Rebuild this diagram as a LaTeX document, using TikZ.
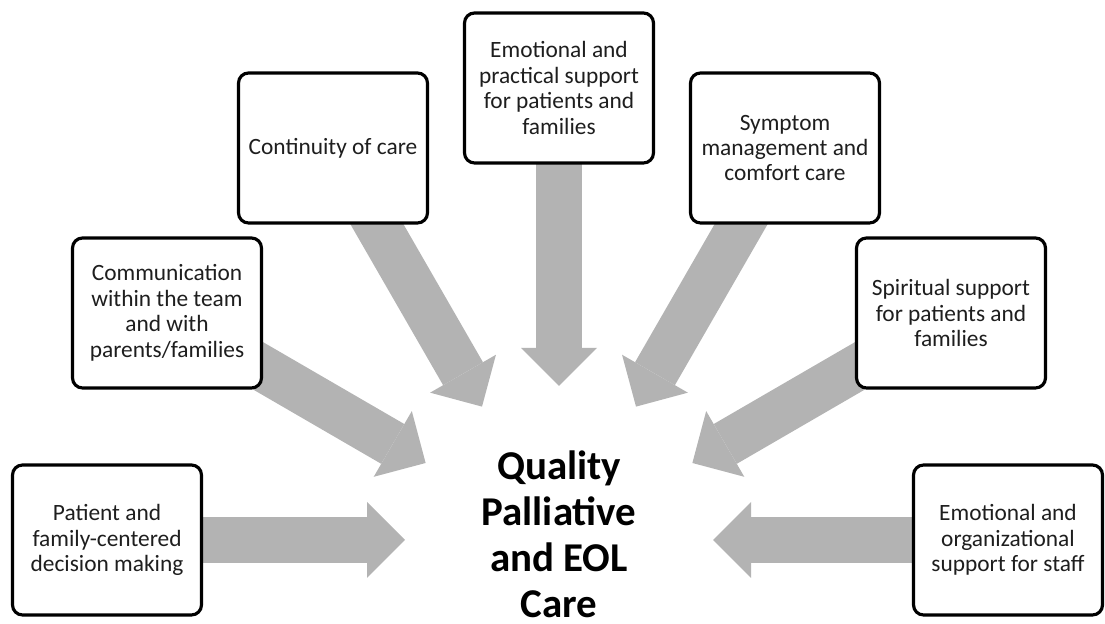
\documentclass[tikz,border=0pt]{standalone}
\usepackage{fontspec}
\setmainfont{Carlito}
\usetikzlibrary{arrows.meta, backgrounds}
\definecolor{arrowgray}{RGB}{179,179,179}
\definecolor{inkgray}{RGB}{30,30,30}
\tikzstyle{topic} = [rectangle, rounded corners=0.2cm, minimum width=3.78cm, minimum height=3.0cm, text centered, align=center, draw=black, line width=1.8pt, fill=white, text=inkgray, font=\fontsize{13.3}{14.5}\selectfont]
\tikzstyle{goal} = [align=center, inner sep=0pt, text depth=0pt, anchor=south, font=\fontsize{23.3}{26.2}\selectfont\bfseries]
\tikzstyle{arrow} = [draw=arrowgray, line width=0.92cm, -{Triangle[width=1.52cm, length=0.76cm, line width=0pt]}]

\begin{document}
\begin{tikzpicture}[x=0.02cm, y=0.02cm]

    \useasboundingbox (0,0) rectangle (1105,624);

    \coordinate (hub) at (559,84);
    \node (care) [goal] at (559,6) {Quality\\Palliative\\and EOL\\Care};

    \node (decision) [topic] at (107,84) {Patient and\\family-centered\\decision making};
    \node (communication) [topic] at (167,311) {Communication\\within the team\\and with\\parents/families};
    \node (continuity) [topic] at (333,476) {Continuity of care};
    \node (practical) [topic] at (559,536) {Emotional and\\practical support\\for patients and\\families};
    \node (symptom) [topic] at (785,476) {Symptom\\management and\\comfort care};
    \node (spiritual) [topic] at (951,311) {Spiritual support\\for patients and\\families};
    \node (staff) [topic] at (1008,84) {Emotional and\\organizational\\support for staff};

    \path (hub) ++(180:154) coordinate (tipA);
    \path (hub) ++(150:154) coordinate (tipB);
    \path (hub) ++(120:154) coordinate (tipC);
    \path (hub) ++(90:154) coordinate (tipD);
    \path (hub) ++(60:154) coordinate (tipE);
    \path (hub) ++(30:154) coordinate (tipF);
    \path (hub) ++(0:154) coordinate (tipG);

    \begin{scope}[on background layer]
        \draw [arrow] (decision.center) -- (tipA);
        \draw [arrow] (communication.center) -- (tipB);
        \draw [arrow] (continuity.center) -- (tipC);
        \draw [arrow] (practical.center) -- (tipD);
        \draw [arrow] (symptom.center) -- (tipE);
        \draw [arrow] (spiritual.center) -- (tipF);
        \draw [arrow] (staff.center) -- (tipG);
    \end{scope}

\end{tikzpicture}
\end{document}
